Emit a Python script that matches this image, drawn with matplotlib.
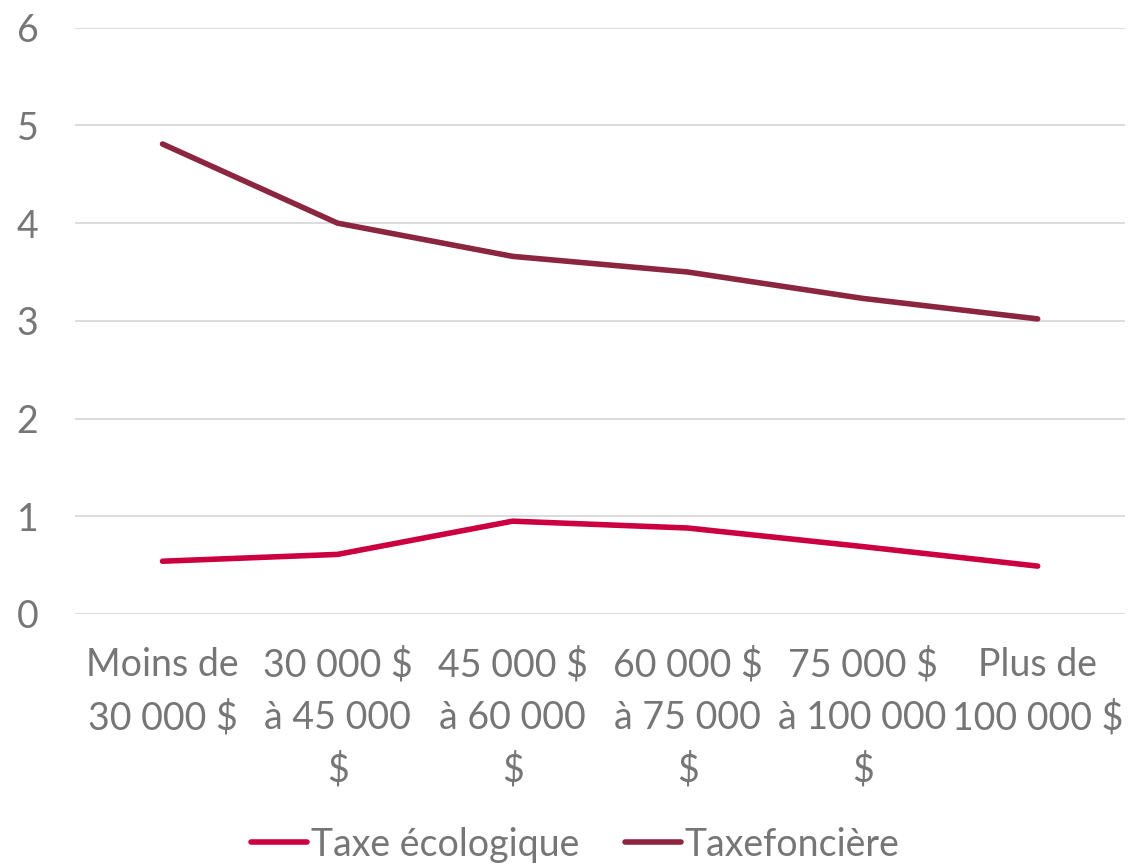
import matplotlib
matplotlib.use("Agg")
import matplotlib.pyplot as plt

categories = ["Moins de\n30 000 $", "30 000 $\nà 45 000\n$", "45 000 $\nà 60 000\n$",
              "60 000 $\nà 75 000\n$", "75 000 $\nà 100 000\n$", "Plus de\n100 000 $"]
taxe_ecologique = [0.54, 0.61, 0.95, 0.88, 0.69, 0.49]
taxe_fonciere = [4.81, 4.00, 3.66, 3.50, 3.23, 3.02]
yticks = [0, 1, 2, 3, 4, 5, 6]

plt.rcParams['font.family'] = ['Lato', 'DejaVu Sans']
gray = '#767676'

fig = plt.figure(figsize=(11.28, 8.66), dpi=100)
ax = fig.add_axes([0.0665, 0.291, 0.931, 0.677])
x = list(range(len(categories)))
ax.plot(x, taxe_ecologique, color='#CC0040', lw=4, solid_capstyle='round', label='Taxe écologique')
ax.plot(x, taxe_fonciere, color='#8B2540', lw=4, solid_capstyle='round', label='Taxefoncière')
ax.set_xlim(-0.5, len(categories) - 0.5)
ax.set_ylim(0, 6)
ax.set_yticks(yticks)
ax.set_xticks(x)
ax.set_xticklabels(categories, linespacing=1.55)
ax.tick_params(axis='both', length=0, labelsize=27, colors=gray)
ax.tick_params(axis='x', pad=24)
ax.tick_params(axis='y', pad=42)
for lab in ax.get_yticklabels():
    lab.set_horizontalalignment('left')
ax.grid(axis='y', color='#D9D9D9', lw=1.3)
ax.set_axisbelow(True)
for s in ax.spines.values():
    s.set_visible(False)
leg = fig.legend(loc='lower center', bbox_to_anchor=(0.51, -0.035), ncol=2, frameon=False,
                 fontsize=27, handlelength=1.5, handletextpad=0.1, columnspacing=1.2,
                 labelcolor=gray)
fig.savefig('out.png', dpi=100)
